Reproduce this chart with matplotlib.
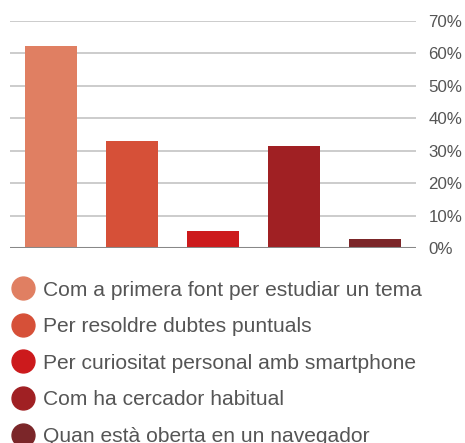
import matplotlib.pyplot as plt
from matplotlib.lines import Line2D

plt.rcParams['font.family'] = ['Liberation Sans', 'DejaVu Sans']

labels = ['Com a primera font per estudiar un tema',
          'Per resoldre dubtes puntuals',
          'Per curiositat personal amb smartphone',
          'Com ha cercador habitual',
          'Quan està oberta en un navegador']
values = [62.2, 33.0, 5.3, 31.5, 2.9]
colors = ['#E07F62', '#D65038', '#CC1A1C', '#A02023', '#7B2629']
yticks = [0, 10, 20, 30, 40, 50, 60, 70]
ytick_labels = ['0%', '10%', '20%', '30%', '40%', '50%', '60%', '70%']

fig = plt.figure(figsize=(4.65, 4.43), dpi=100)
ax = fig.add_axes([10 / 465, 194.7 / 443, 406 / 465, 227.6 / 443])

x = range(len(values))
ax.bar(x, values, width=0.64, color=colors, zorder=3)
ax.set_xlim(-0.5, len(values) - 0.5)
ax.set_ylim(0, 70)

for t in yticks[1:]:
    ax.axhline(t, color='#cccccc', lw=1.4, zorder=1)
ax.axhline(0, color='#888888', lw=2.2, zorder=4)

ax.set_xticks([])
ax.yaxis.tick_right()
ax.set_yticks(yticks)
ax.set_yticklabels(ytick_labels, fontsize=12.2, color='#555555')
ax.tick_params(axis='y', length=0, pad=9)
for s in ax.spines.values():
    s.set_visible(False)

handles = [Line2D([], [], marker='o', linestyle='none', markersize=16.5,
                  markerfacecolor=c, markeredgecolor=c) for c in colors]
fig.legend(handles, labels, loc='upper left', bbox_to_anchor=(10.5 / 465, 1 - 280.5 / 443),
           frameon=False, fontsize=15.1, labelcolor='#555555',
           handletextpad=0.36, labelspacing=0.84, handlelength=1.2,
           borderpad=0, borderaxespad=0)

fig.savefig('out.png', dpi=100)
